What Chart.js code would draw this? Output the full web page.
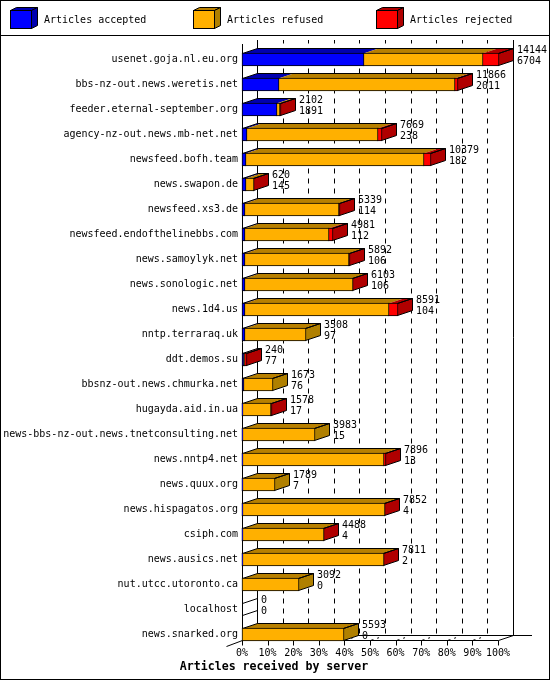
<!DOCTYPE html>
<html>
<head>
<meta charset="utf-8">
<title>Articles received by server</title>
<script src="https://cdn.jsdelivr.net/npm/chart.js@4/dist/chart.umd.js"></script>
<style>
html, body { margin: 0; padding: 0; background: #fff; }
canvas { display: block; }
</style>
</head>
<body>
<canvas id="chart" width="550" height="680"></canvas>
<script>
var servers = ["usenet.goja.nl.eu.org", "bbs-nz-out.news.weretis.net", "feeder.eternal-september.org",
    "agency-nz-out.news.mb-net.net", "newsfeed.bofh.team", "news.swapon.de", "newsfeed.xs3.de",
    "newsfeed.endofthelinebbs.com", "news.samoylyk.net", "news.sonologic.net", "news.1d4.us",
    "nntp.terraraq.uk", "ddt.demos.su", "bbsnz-out.news.chmurka.net", "hugayda.aid.in.ua",
    "news-bbs-nz-out.news.tnetconsulting.net", "news.nntp4.net", "news.quux.org", "news.hispagatos.org",
    "csiph.com", "news.ausics.net", "nut.utcc.utoronto.ca", "localhost", "news.snarked.org"];

var totals   = [14144, 11866, 2102, 7669, 10379, 620, 5339, 4981, 5892, 6103, 8591, 3508, 240, 1673, 1578, 3983, 7896, 1789, 7852, 4488, 7811, 3092, 0, 5593];
var accepted = [6704, 2011, 1891, 238, 182, 145, 114, 112, 106, 106, 104, 97, 77, 76, 17, 15, 13, 7, 4, 4, 2, 0, 0, 0];
var refused  = [6560, 9675, 170, 7241, 9827, 460, 5205, 4639, 5766, 5977, 7967, 3411, 33, 1597, 1546, 3968, 7803, 1782, 7818, 4469, 7794, 3092, 0, 5593];
var rejected = [880, 180, 41, 190, 370, 15, 20, 230, 20, 20, 520, 0, 130, 0, 15, 0, 80, 0, 30, 15, 15, 0, 0, 0];

var seriesNames = ["Articles accepted", "Articles refused", "Articles rejected"];
var frontColors = ["#0000ff", "#ffb000", "#ff0000"];
var topColors   = ["#0000b0", "#b88000", "#b00000"];
var sideColors  = ["#0000b0", "#b08000", "#b00000"];
var legendX     = [10, 193, 376];
var tickLabels  = ["0%", "10%", "20%", "30%", "40%", "50%", "60%", "70%", "80%", "90%", "100%"];
var axisTitle   = "Articles received by server";

var DX = 15, DY = 5;
var FONT = '10px "DejaVu Sans Mono"';

function poly(ctx, pts, fill) {
    ctx.beginPath();
    ctx.moveTo(pts[0], pts[1]);
    for (var i = 2; i < pts.length; i += 2) {
        ctx.lineTo(pts[i], pts[i + 1]);
    }
    ctx.closePath();
    if (fill) {
        ctx.fillStyle = fill;
        ctx.fill();
    }
    ctx.stroke();
}

function seg(ctx, x1, y1, x2, y2) {
    ctx.beginPath();
    ctx.moveTo(x1, y1);
    ctx.lineTo(x2, y2);
    ctx.stroke();
}

function drawLegend(ctx) {
    for (var i = 0; i < seriesNames.length; i++) {
        var x = legendX[i] + 0.5, y = 10.5;
        poly(ctx, [x, y, x + 6, y - 3, x + 27, y - 3, x + 21, y], topColors[i]);
        poly(ctx, [x + 21, y, x + 27, y - 3, x + 27, y + 15, x + 21, y + 18], sideColors[i]);
        ctx.fillStyle = frontColors[i];
        ctx.fillRect(x, y, 21, 18);
        ctx.strokeRect(x, y, 21, 18);
        ctx.fillStyle = "#000";
        ctx.font = FONT;
        ctx.textAlign = "left";
        ctx.textBaseline = "middle";
        ctx.fillText(seriesNames[i], x + 33.5, 20);
    }
}

var boxes3d = {
    id: "boxes3d",

    // whole pixels, neighbours share one border column
    afterDatasetsUpdate: function(chart) {
        for (var d = 0; d < 3; d++) {
            var els = chart.getDatasetMeta(d).data;
            for (var i = 0; i < els.length; i++) {
                var empty = els[i].x === els[i].base;
                els[i].base = Math.round(els[i].base);
                els[i].x = Math.round(els[i].x) + (empty ? 0 : 1);
            }
        }
    },

    beforeDraw: function(chart) {
        var ctx = chart.ctx;
        ctx.save();
        ctx.fillStyle = "#fff";
        ctx.fillRect(0, 0, 550, 680);
        ctx.strokeStyle = "#000";
        ctx.lineWidth = 1;
        ctx.strokeRect(0.5, 0.5, 549, 679);
        seg(ctx, 0, 35.5, 550, 35.5);
        drawLegend(ctx);
        ctx.restore();
    },

    beforeDatasetsDraw: function(chart) {
        var ctx = chart.ctx, xs = chart.scales.x;
        var floorY = 640.5, backY = floorY - DY, topY = 40;
        ctx.save();
        ctx.strokeStyle = "#000";
        ctx.lineWidth = 1;

        // walls and floor
        var left = Math.round(xs.left) + 0.5, right = Math.round(xs.right) + 0.5;
        seg(ctx, left, 44, left, floorY);
        seg(ctx, left + DX, topY, left + DX, backY);
        seg(ctx, right + DX, topY, right + DX, backY);
        seg(ctx, left, floorY, right, floorY);
        seg(ctx, left + DX, backY, 532, backY);
        seg(ctx, left, floorY, left - DX - 1, floorY + DY + 1);
        seg(ctx, right, floorY, right + DX, backY);

        // grid on the back wall, ticks below the floor
        for (var t = 0; t < xs.ticks.length; t++) {
            var x = Math.round(xs.getPixelForValue(xs.ticks[t].value)) + 0.5;
            seg(ctx, x, floorY, x, floorY + 5);
            if (t > 0 && t < xs.ticks.length - 1) {
                ctx.setLineDash([5, 5]);
                ctx.lineDashOffset = 8;
                seg(ctx, x + DX, backY, x + DX, topY);
                ctx.lineDashOffset = 0;
                ctx.setLineDash([3, 4, 2, 20]);
                seg(ctx, x, floorY, x + DX, backY);
                ctx.setLineDash([]);
            }
        }

        // top and side faces of each stacked bar
        for (var i = 0; i < servers.length; i++) {
            var first = chart.getDatasetMeta(0).data[i];
            var top = first.y - first.height / 2 + 0.5, bottom = top + first.height - 1;
            var x0 = first.base + 0.5, end = x0, sideColor = null;
            for (var d = 0; d < 3; d++) {
                var el = chart.getDatasetMeta(d).data[i];
                if (el.x === el.base) {
                    continue;
                }
                var a = el.base + 0.5, b = el.x - 0.5;
                ctx.fillStyle = topColors[d];
                ctx.beginPath();
                ctx.moveTo(a, top);
                ctx.lineTo(a + DX, top - DY);
                ctx.lineTo(b + DX, top - DY);
                ctx.lineTo(b, top);
                ctx.closePath();
                ctx.fill();
                end = b;
                sideColor = sideColors[d];
            }
            if (sideColor === null) {
                seg(ctx, x0, top, x0 + DX, top - DY);
                seg(ctx, x0, bottom, x0 + DX, bottom - DY);
                continue;
            }
            poly(ctx, [end, top, end + DX, top - DY, end + DX, bottom - DY, end, bottom], sideColor);
            poly(ctx, [x0, top, x0 + DX, top - DY, end + DX, top - DY, end, top]);
        }
        ctx.restore();
    },

    afterDatasetsDraw: function(chart) {
        var ctx = chart.ctx, xs = chart.scales.x, ys = chart.scales.y;
        ctx.save();
        ctx.fillStyle = "#000";
        ctx.font = FONT;
        ctx.textAlign = "left";
        ctx.textBaseline = "middle";
        for (var i = 0; i < servers.length; i++) {
            var x = Math.round(xs.getPixelForValue(totals[i])) + DX + 4;
            var y = ys.getPixelForValue(i);
            ctx.fillText(String(totals[i]), x, y - 9.5);
            ctx.fillText(String(accepted[i]), x, y + 1.5);
        }
        ctx.restore();
    },

    afterDraw: function(chart) {
        var ctx = chart.ctx;
        ctx.save();
        ctx.fillStyle = "#000";
        ctx.font = 'bold 11.6px "DejaVu Sans Mono"';
        ctx.textAlign = "center";
        ctx.textBaseline = "middle";
        ctx.fillText(axisTitle, 274, 667);
        ctx.restore();
    }
};

var ctx = document.getElementById("chart").getContext("2d");
var myChart = new Chart(ctx, {
    type: "bar",
    plugins: [boxes3d],
    data: {
        labels: servers,
        datasets: [
            { label: seriesNames[0], data: accepted, backgroundColor: frontColors[0] },
            { label: seriesNames[1], data: refused, backgroundColor: frontColors[1] },
            { label: seriesNames[2], data: rejected, backgroundColor: frontColors[2] }
        ]
    },
    options: {
        indexAxis: "y",
        responsive: false,
        animation: false,
        devicePixelRatio: 1,
        layout: { padding: { top: 47, right: 52, left: 0, bottom: 20 } },
        datasets: {
            bar: { barThickness: 13, borderColor: "#000", borderWidth: 1, borderSkipped: false, clip: false }
        },
        plugins: {
            legend: { display: false },
            tooltip: { enabled: false }
        },
        scales: {
            x: {
                stacked: true,
                min: 0,
                max: totals[0],
                grid: { display: false, drawTicks: false },
                border: { display: false },
                afterBuildTicks: function(scale) {
                    scale.ticks = tickLabels.map(function(label, i) {
                        return { value: totals[0] * i / (tickLabels.length - 1) };
                    });
                },
                afterFit: function(scale) { scale.height = 13; },
                ticks: {
                    color: "#000",
                    padding: 0,
                    autoSkip: false,
                    maxRotation: 0,
                    font: { family: '"DejaVu Sans Mono"', size: 10 },
                    callback: function(value, index) { return tickLabels[index]; }
                }
            },
            y: {
                stacked: true,
                grid: { display: false, drawTicks: false },
                border: { display: false },
                afterFit: function(scale) { scale.width = 242; },
                ticks: {
                    color: "#000",
                    padding: 4,
                    autoSkip: false,
                    font: { family: '"DejaVu Sans Mono"', size: 10 }
                }
            }
        }
    }
});
</script>
</body>
</html>
